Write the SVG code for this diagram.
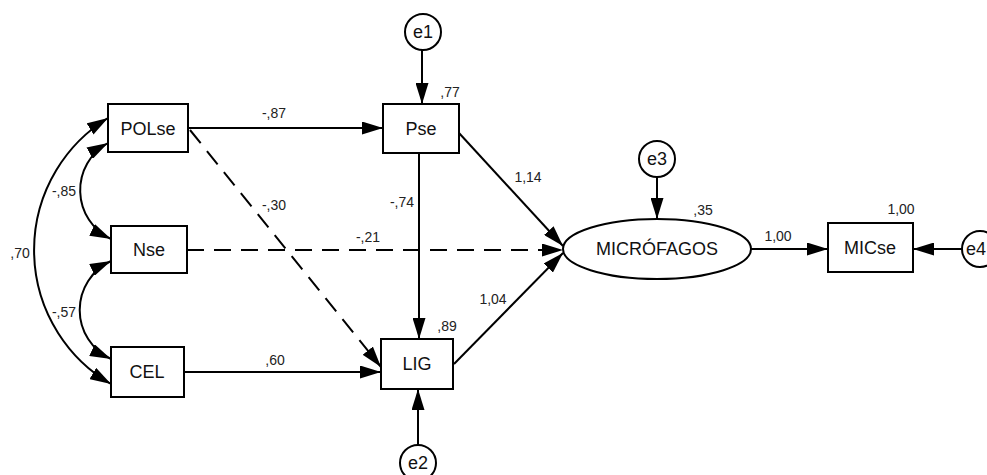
<svg xmlns="http://www.w3.org/2000/svg" width="987" height="475" viewBox="0 0 987 475">
<style>
.box{fill:#fff;stroke:#000;stroke-width:2}
.nt{font-family:"Liberation Sans",Arial,sans-serif;font-size:18px;fill:#111;text-anchor:middle}
.lt{font-family:"Liberation Sans",Arial,sans-serif;font-size:14px;fill:#222;text-anchor:middle}
.c{fill:none;stroke:#000;stroke-width:2}
.d{stroke-dasharray:17,10}
</style>
<defs>
<marker id="ah" markerUnits="userSpaceOnUse" markerWidth="21" markerHeight="13" refX="21" refY="6.5" orient="auto-start-reverse">
<path d="M0,0 L21,6.5 L0,13 z" fill="#000"/>
</marker>
</defs>
<g id="connectors">
<line class="c" x1="188" y1="128" x2="383" y2="128" marker-end="url(#ah)"/>
<line class="c d" x1="190" y1="130" x2="381" y2="367" marker-end="url(#ah)"/>
<line class="c d" x1="187" y1="250" x2="563" y2="250" marker-end="url(#ah)"/>
<line class="c" x1="184" y1="372" x2="381" y2="372" marker-end="url(#ah)"/>
<line class="c" x1="419" y1="153" x2="419" y2="339" marker-end="url(#ah)"/>
<line class="c" x1="459" y1="133" x2="563" y2="246" marker-end="url(#ah)"/>
<line class="c" x1="454" y1="364" x2="563" y2="253" marker-end="url(#ah)"/>
<line class="c" x1="751" y1="249" x2="828" y2="249" marker-end="url(#ah)"/>
<line class="c" x1="962" y1="249" x2="913" y2="249" marker-end="url(#ah)"/>
<line class="c" x1="422" y1="50" x2="422" y2="104" marker-end="url(#ah)"/>
<line class="c" x1="418" y1="445" x2="418" y2="389" marker-end="url(#ah)"/>
<line class="c" x1="657" y1="177" x2="657" y2="219" marker-end="url(#ah)"/>
<path class="c" d="M108,143 A54,54 0 0 0 111,239" marker-start="url(#ah)" marker-end="url(#ah)"/>
<path class="c" d="M111,261 A54,54 0 0 0 111,359" marker-start="url(#ah)" marker-end="url(#ah)"/>
<path class="c" d="M108,118 A155,155 0 0 0 111,384" marker-start="url(#ah)" marker-end="url(#ah)"/>
<text class="lt" x="274" y="118">-,87</text>
<text class="lt" x="274" y="210">-,30</text>
<text class="lt" x="368" y="242">-,21</text>
<text class="lt" x="275" y="365">,60</text>
<text class="lt" x="402" y="207">-,74</text>
<text class="lt" x="528" y="182">1,14</text>
<text class="lt" x="493" y="304">1,04</text>
<text class="lt" x="778" y="241">1,00</text>
<text class="lt" x="64" y="196">-,85</text>
<text class="lt" x="64" y="317">-,57</text>
<text class="lt" x="20" y="258">,70</text>
</g>
<g id="POLse"><rect class="box" x="108" y="104" width="80" height="48"/><text class="nt" x="148" y="135">POLse</text></g>
<g id="Nse"><rect class="box" x="111" y="226" width="76" height="47"/><text class="nt" x="149" y="256">Nse</text></g>
<g id="CEL"><rect class="box" x="111" y="347" width="73" height="50"/><text class="nt" x="147" y="378">CEL</text></g>
<g id="Pse"><rect class="box" x="383" y="104" width="76" height="49"/><text class="nt" x="421" y="135">Pse</text><text class="lt" x="450" y="97">,77</text></g>
<g id="LIG"><rect class="box" x="381" y="339" width="72" height="50"/><text class="nt" x="417" y="370">LIG</text><text class="lt" x="447" y="331">,89</text></g>
<g id="MICROFAGOS"><ellipse class="box" cx="657" cy="249" rx="94" ry="30"/><text class="nt" x="657" y="255">MICRÓFAGOS</text><text class="lt" x="703" y="215">,35</text></g>
<g id="MICse"><rect class="box" x="828" y="223" width="85" height="49"/><text class="nt" x="870" y="254">MICse</text><text class="lt" x="901" y="214">1,00</text></g>
<g id="e1"><circle class="box" cx="423" cy="32" r="18"/><text class="nt" x="423" y="38">e1</text></g>
<g id="e2"><circle class="box" cx="418" cy="463" r="18"/><text class="nt" x="418" y="469">e2</text></g>
<g id="e3"><circle class="box" cx="657" cy="159" r="18"/><text class="nt" x="657" y="165">e3</text></g>
<g id="e4"><circle class="box" cx="980" cy="249" r="18"/><text class="nt" x="976" y="255">e4</text></g>
</svg>
